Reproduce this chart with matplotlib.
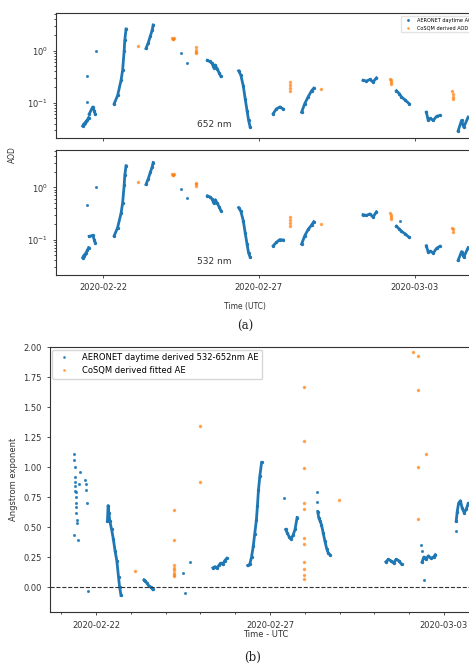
import numpy as np
import pandas as pd
import matplotlib
matplotlib.use("Agg")
import matplotlib.pyplot as plt
import matplotlib.dates as mdates
from matplotlib.lines import Line2D

# --- Data (days relative to 2020-02-22 00:00 UTC) ---
BASE = pd.Timestamp("2020-02-22")
tick_labels = ["2020-02-22", "2020-02-27", "2020-03-03"]

# AERONET AOD 652 nm, continuous runs
aer652_t = [[-0.65, -0.62, -0.58, -0.54, -0.50, -0.46],
            [-0.44, -0.33, -0.28, -0.25],
            [0.36, 0.47, 0.58, 0.63, 0.68, 0.70, 0.74],
            [1.38, 1.45, 1.52, 1.58, 1.61],
            [3.35, 3.42, 3.50, 3.55, 3.60, 3.66, 3.72, 3.78],
            [4.35, 4.42, 4.50, 4.56, 4.62, 4.67, 4.72],
            [5.46, 5.56, 5.67, 5.78],
            [6.37, 6.47, 6.58, 6.69, 6.76],
            [8.34, 8.45, 8.56, 8.66, 8.77],
            [9.41, 9.50, 9.57, 9.68, 9.82],
            [10.37, 10.43, 10.50, 10.59, 10.70, 10.80],
            [11.39, 11.50, 11.57, 11.71]]
aer652_v = [[0.036, 0.039, 0.041, 0.044, 0.047, 0.052],
            [0.061, 0.083, 0.071, 0.061],
            [0.096, 0.138, 0.27, 0.42, 1.0, 1.58, 2.6],
            [1.1, 1.4, 1.9, 2.5, 3.1],
            [0.65, 0.62, 0.57, 0.47, 0.53, 0.45, 0.38, 0.32],
            [0.41, 0.34, 0.21, 0.12, 0.071, 0.046, 0.034],
            [0.062, 0.076, 0.083, 0.076],
            [0.066, 0.096, 0.13, 0.17, 0.19],
            [0.27, 0.26, 0.28, 0.25, 0.30],
            [0.17, 0.15, 0.13, 0.114, 0.096],
            [0.066, 0.046, 0.050, 0.046, 0.055, 0.057],
            [0.029, 0.046, 0.034, 0.053]]
aer652_pts_t = [-0.50, -0.50, -0.22, 2.50, 2.68]
aer652_pts_v = [0.105, 0.33, 1.0, 0.9, 0.58]

# AERONET AOD 532 nm
aer532_t = aer652_t
aer532_v = [[0.045, 0.049, 0.052, 0.056, 0.062, 0.070],
            [0.115, 0.12, 0.10, 0.087],
            [0.118, 0.17, 0.32, 0.5, 1.1, 1.7, 2.6],
            [1.14, 1.45, 1.95, 2.5, 3.0],
            [0.69, 0.66, 0.60, 0.50, 0.58, 0.50, 0.43, 0.36],
            [0.41, 0.35, 0.23, 0.135, 0.082, 0.055, 0.046],
            [0.076, 0.088, 0.10, 0.098],
            [0.082, 0.118, 0.156, 0.19, 0.22],
            [0.30, 0.29, 0.31, 0.27, 0.34],
            [0.18, 0.16, 0.144, 0.13, 0.11],
            [0.076, 0.057, 0.060, 0.055, 0.068, 0.074],
            [0.040, 0.059, 0.046, 0.070]]
aer532_pts_t = [-0.50, -0.22, 2.50, 2.68, 9.52]
aer532_pts_v = [0.45, 1.03, 0.93, 0.62, 0.23]

# CoSQM AOD
cos652_t = [1.11, 2.20, 2.23, 2.25, 2.27, 2.98, 2.98, 2.98, 2.99, 5.99, 5.99, 5.99, 5.99,
            6.99, 9.22, 9.25, 9.25, 9.25, 11.19, 11.21, 11.22, 11.21]
cos652_v = [1.23, 1.75, 1.70, 1.65, 1.72, 1.15, 1.05, 0.95, 0.90, 0.25, 0.22, 0.19, 0.17,
            0.18, 0.29, 0.27, 0.25, 0.23, 0.17, 0.15, 0.13, 0.12]
cos532_t = [1.11, 2.20, 2.23, 2.25, 2.27, 2.98, 2.98, 2.99, 5.99, 5.99, 5.99, 5.99,
            6.99, 9.22, 9.25, 9.25, 9.25, 11.19, 11.21, 11.22]
cos532_v = [1.28, 1.80, 1.76, 1.72, 1.78, 1.20, 1.14, 1.08, 0.27, 0.24, 0.21, 0.18,
            0.20, 0.33, 0.30, 0.27, 0.25, 0.17, 0.16, 0.14]

# Angstrom exponent, AERONET runs
ae_t = [[0.33, 0.35, 0.37, 0.40, 0.45, 0.50, 0.55, 0.60, 0.65, 0.68, 0.72],
        [1.38, 1.42, 1.47, 1.52, 1.57, 1.63],
        [3.36, 3.42, 3.48, 3.53, 3.58, 3.64, 3.70, 3.76],
        [4.36, 4.42, 4.47, 4.52, 4.56, 4.61, 4.64, 4.67, 4.71, 4.76],
        [5.45, 5.50, 5.55, 5.60, 5.66, 5.72, 5.78],
        [6.37, 6.40, 6.44, 6.48, 6.53, 6.58, 6.63, 6.68, 6.72],
        [8.33, 8.40, 8.47, 8.55, 8.62, 8.70, 8.78],
        [9.37, 9.42, 9.48, 9.55, 9.62, 9.70, 9.75],
        [10.35, 10.38, 10.42, 10.47, 10.52, 10.58, 10.64, 10.70, 10.75]]
ae_v = [[0.55, 0.68, 0.62, 0.55, 0.48, 0.40, 0.30, 0.22, 0.08, 0.0, -0.07],
        [0.06, 0.05, 0.03, 0.01, 0.0, -0.02],
        [0.16, 0.17, 0.16, 0.18, 0.20, 0.19, 0.22, 0.24],
        [0.18, 0.19, 0.25, 0.34, 0.44, 0.56, 0.68, 0.81, 0.93, 1.04],
        [0.48, 0.45, 0.42, 0.40, 0.43, 0.48, 0.58],
        [0.63, 0.58, 0.55, 0.52, 0.45, 0.38, 0.32, 0.28, 0.27],
        [0.21, 0.23, 0.22, 0.20, 0.23, 0.22, 0.19],
        [0.21, 0.25, 0.23, 0.26, 0.24, 0.25, 0.27],
        [0.55, 0.63, 0.70, 0.72, 0.66, 0.62, 0.65, 0.70, 0.68]]
ae_pts_t = [-0.62, -0.62, -0.61, -0.61, -0.60, -0.60, -0.59, -0.58, -0.58, -0.57, -0.56,
            -0.56, -0.55, -0.55, -0.62, -0.52, -0.47, -0.50, -0.30, -0.28, -0.28, -0.25,
            -0.22, 2.50, 2.55, 2.69, 5.40, 6.35, 6.36, 9.35, 9.36, 9.42, 10.35]
ae_pts_v = [1.11, 1.06, 1.00, 0.92, 0.88, 0.84, 0.80, 0.79, 0.75, 0.70, 0.67,
            0.62, 0.56, 0.53, 0.43, 0.39, 0.96, 0.86, 0.89, 0.86, 0.81, 0.70,
            -0.03, 0.12, -0.05, 0.21, 0.74, 0.79, 0.71, 0.35, 0.30, 0.06, 0.47]

# CoSQM fitted AE
cae_t = [1.13, 2.24, 2.24, 2.24, 2.24, 2.24, 2.25, 2.24, 2.24, 2.99, 2.99,
         5.97, 5.97, 5.97, 5.97, 5.97, 5.97, 5.97, 5.97, 5.97, 5.97, 5.97,
         6.99, 9.11, 9.25, 9.25, 9.25, 9.25, 9.49]
cae_v = [0.13, 0.18, 0.16, 0.14, 0.12, 0.10, 0.09, 0.64, 0.39, 1.34, 0.88,
         1.67, 1.22, 0.99, 0.70, 0.65, 0.41, 0.36, 0.21, 0.15, 0.10, 0.07,
         0.73, 1.96, 1.93, 1.64, 1.00, 0.57, 1.11]

BLUE = "#1f77b4"
ORANGE = "#ff7f0e"


def dates(days):
    return BASE + pd.to_timedelta(np.asarray(days), unit="D")


def style_axes(ax):
    for s in ax.spines.values():
        s.set_color("#333333")
        s.set_linewidth(0.8)
    ax.tick_params(labelsize=6, colors="#333333", length=2.5, width=0.6)
    ax.tick_params(which="minor", length=1.5, width=0.5)


fig = plt.figure(figsize=(4.69, 6.64), dpi=100)

# --- (a) AOD panels ---
axa1 = fig.add_axes([0.1194, 0.792, 0.908, 0.188])
axa2 = fig.add_axes([0.1194, 0.586, 0.908, 0.188], sharex=axa1)

for ax, segs_t, segs_v, pt, pv, ct, cv, lab in [
        (axa1, aer652_t, aer652_v, aer652_pts_t, aer652_pts_v, cos652_t, cos652_v, "652 nm"),
        (axa2, aer532_t, aer532_v, aer532_pts_t, aer532_pts_v, cos532_t, cos532_v, "532 nm")]:
    for t, v in zip(segs_t, segs_v):
        ax.plot(dates(t), v, "-", color=BLUE, lw=2.0, marker=".", ms=2.8)
    ax.plot(dates(pt), pv, ".", color=BLUE, ms=2.5, alpha=0.8)
    ax.plot(dates(ct), cv, ".", color=ORANGE, ms=3, alpha=0.6)
    ax.set_yscale("log")
    ax.set_ylim(0.021, 5.2)
    ax.text(0.33, 0.09, lab, transform=ax.transAxes, fontsize=6.5, color="#333333")
    style_axes(ax)

axa1.set_xlim(BASE - pd.Timedelta(days=1.506), BASE + pd.Timedelta(days=12.15))
axa1.set_xticks(pd.to_datetime(tick_labels))
axa1.xaxis.set_major_formatter(mdates.DateFormatter("%Y-%m-%d"))
plt.setp(axa1.get_xticklabels(), visible=False)

handles_a = [Line2D([], [], ls="", marker=".", ms=2, color=BLUE),
             Line2D([], [], ls="", marker=".", ms=2, color=ORANGE, alpha=0.6)]
axa1.legend(handles_a, ["AERONET daytime AOD", "CoSQM derived AOD"],
            loc="upper left", bbox_to_anchor=(0.805, 1.0), fontsize=3.6,
            frameon=True, fancybox=False, edgecolor="#dddddd", handletextpad=0.8)

fig.text(12 / 469, 1 - 155 / 664, "AOD", rotation=90, fontsize=5.5,
         ha="center", va="center", color="#333333")
fig.text(245 / 469, 1 - 306 / 664, "Time (UTC)", fontsize=5.5,
         ha="center", va="center", color="#333333")
fig.text(245 / 469, 1 - 326 / 664, "(a)", fontsize=8.5, family="DejaVu Serif",
         ha="center", va="center", color="#222222")

# --- (b) Angstrom exponent ---
axb = fig.add_axes([0.1066, 0.078, 0.921, 0.399])
for t, v in zip(ae_t, ae_v):
    axb.plot(dates(t), v, "-", color=BLUE, lw=2.0, marker=".", ms=2.8)
axb.plot(dates(ae_pts_t), ae_pts_v, ".", color=BLUE, ms=2.5, alpha=0.8)
axb.plot(dates(cae_t), cae_v, ".", color=ORANGE, ms=3, alpha=0.6)
axb.axhline(0, color="#333333", ls="--", lw=0.8)

axb.set_xlim(BASE - pd.Timedelta(days=1.32), BASE + pd.Timedelta(days=11.09))
axb.set_ylim(-0.21, 2.0)
axb.set_yticks([0.0, 0.25, 0.5, 0.75, 1.0, 1.25, 1.5, 1.75, 2.0])
axb.yaxis.set_major_formatter(matplotlib.ticker.FormatStrFormatter("%.2f"))
axb.set_xticks(pd.to_datetime(tick_labels))
axb.xaxis.set_major_formatter(mdates.DateFormatter("%Y-%m-%d"))
axb.xaxis.set_minor_locator(mdates.DayLocator())
axb.set_xlabel("Time - UTC", fontsize=6, color="#333333", labelpad=0)
axb.set_ylabel("Angstrom exponent", fontsize=6, color="#333333", labelpad=4)
style_axes(axb)

handles_b = [Line2D([], [], ls="", marker=".", ms=2, color=BLUE, alpha=0.8),
             Line2D([], [], ls="", marker=".", ms=2, color=ORANGE, alpha=0.6)]
axb.legend(handles_b, ["AERONET daytime derived 532-652nm AE", "CoSQM derived fitted AE"],
           loc="upper left", fontsize=6, frameon=True, fancybox=True,
           edgecolor="#cccccc", borderaxespad=0.3, handletextpad=1.2)

fig.text(253 / 469, 1 - 657 / 664, "(b)", fontsize=8.5, family="DejaVu Serif",
         ha="center", va="center", color="#222222")

fig.savefig("out.png", dpi=100)
